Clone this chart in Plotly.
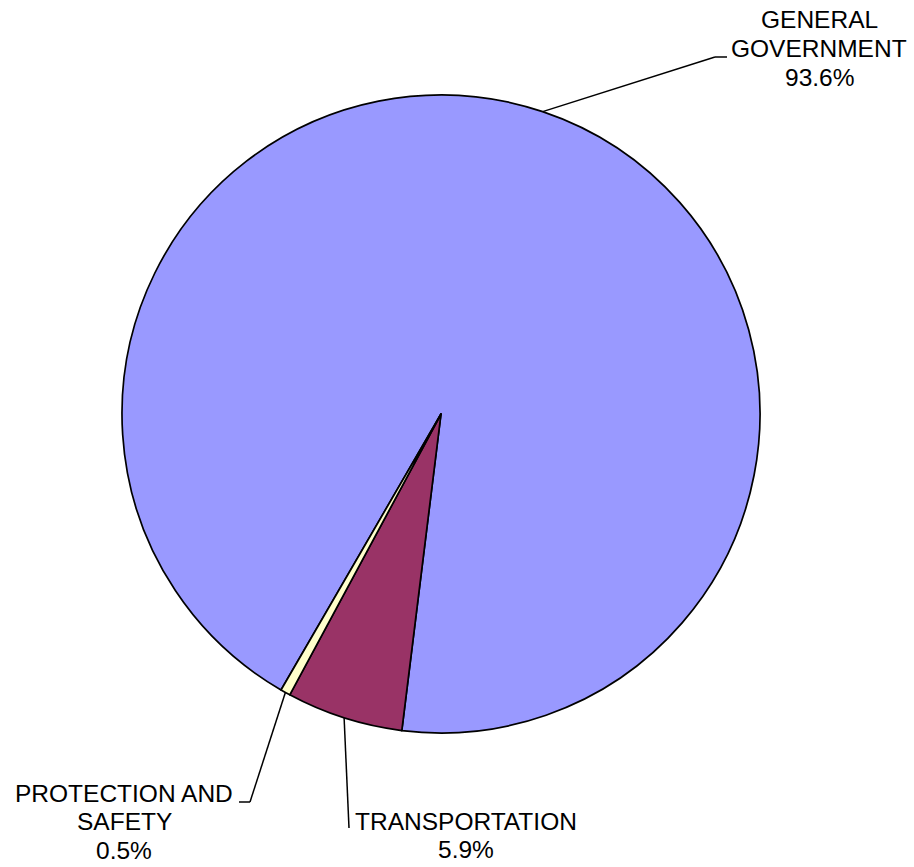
import math
import plotly.graph_objects as go

# ---- data ----
categories = ["GENERAL GOVERNMENT", "TRANSPORTATION", "PROTECTION AND SAFETY"]
values = [93.6, 5.9, 0.5]
colors = ["#9999FF", "#993366", "#FFFFCC"]
label_lines = [["GENERAL", "GOVERNMENT"], ["TRANSPORTATION"], ["PROTECTION AND", "SAFETY"]]

# ---- layout constants (pixels) ----
W, H = 914, 867
CX, CY, R = 441, 414, 319
ROTATION = 210.1  # start angle of first slice, clockwise from 12 o'clock
FONT = "Liberation Sans, Arial, sans-serif"
FS = 24.5
LINE_STEP = 28.7

# label block centre x, first line centre y; leader elbow points
label_style = [
    dict(x=819, y0=20, elbow=[(715, 57), (727, 57)]),
    dict(x=466.5, y0=821, elbow=[(349, 828)]),
    dict(x=124, y0=793, elbow=[(250, 802), (239, 802)]),
]

def px(x):
    return x / W

def py(y):
    return 1 - y / H

fig = go.Figure(go.Pie(
    labels=categories, values=values, sort=False, direction="clockwise",
    rotation=ROTATION,
    marker=dict(colors=colors, line=dict(color="black", width=1.7)),
    textinfo="none", hoverinfo="label+percent", showlegend=False,
    domain=dict(x=[px(CX - R), px(CX + R)], y=[py(CY + R), py(CY - R)]),
))

total = sum(values)
annotations = []
shapes = []
cum = 0.0
for i, v in enumerate(values):
    mid = ROTATION + (cum + v / 2) / total * 360
    cum += v
    a = math.radians(mid)
    ex, ey = CX + R * math.sin(a), CY - R * math.cos(a)
    st = label_style[i]
    pts = [(ex, ey)] + st["elbow"]
    for (x0, y0), (x1, y1) in zip(pts[:-1], pts[1:]):
        shapes.append(dict(type="line", xref="paper", yref="paper",
                           x0=px(x0), y0=py(y0), x1=px(x1), y1=py(y1),
                           line=dict(color="black", width=1.5)))
    lines = label_lines[i] + [f"{v / total * 100:.1f}%"]
    for k, t in enumerate(lines):
        annotations.append(dict(text=t, xref="paper", yref="paper",
                                x=px(st["x"]), y=py(st["y0"] + k * LINE_STEP),
                                xanchor="center", yanchor="middle", showarrow=False,
                                font=dict(family=FONT, size=FS, color="black")))

fig.update_layout(
    width=W, height=H, margin=dict(l=0, r=0, t=0, b=0),
    paper_bgcolor="white", plot_bgcolor="white",
    shapes=shapes, annotations=annotations,
)

fig.write_html("out.html")
